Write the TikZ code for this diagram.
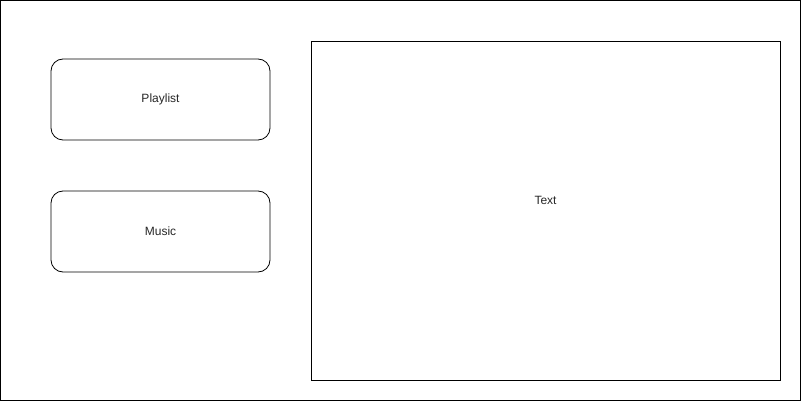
\documentclass[tikz,border=0pt]{standalone}
\usepackage{fontspec}
\setmainfont{Liberation Sans}
\usetikzlibrary{positioning}
\tikzset{
    roundbox/.style={draw, rounded corners=12pt, minimum width=219pt, minimum height=81pt, inner sep=0pt},
    textbox/.style={draw, minimum width=469pt, minimum height=339pt, inner sep=0pt},
    every node/.style={font=\fontsize{12}{14}\selectfont, text=black!85}
}

\begin{document}
\begin{tikzpicture}[x=1pt,y=-1pt, line width=0.8pt]
    \useasboundingbox (0,0) rectangle (801,401);
    \draw (0.5,0.5) rectangle (800.5,400.5);
    \node[roundbox] (playlist) at (160.5,99.5) {\raisebox{-1pt}{Playlist}};
    \node[roundbox] (music) at (160.5,231.5) {\raisebox{-1pt}{Music}};
    \node[textbox, label={[name=textlabel, yshift=10pt]center:Text}] (text) at (545.5,210.5) {};
  \end{tikzpicture}
\end{document}
